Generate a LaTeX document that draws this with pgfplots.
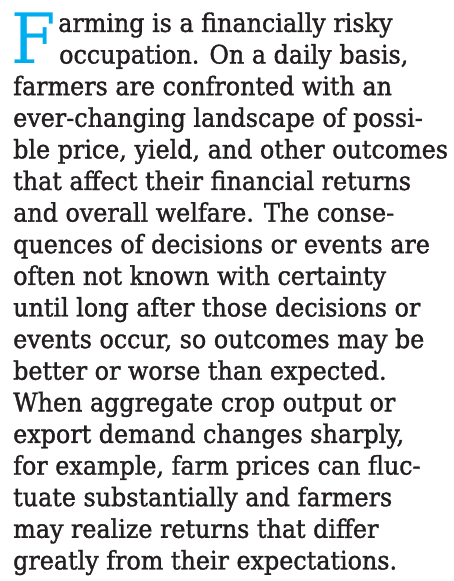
\documentclass[border=0pt]{standalone}
\usepackage{fontspec}
\setmainfont{DejaVu Serif}
\newfontfamily\bodyfont[FakeStretch=0.93,FakeBold=1.3]{DejaVu Serif}
\newfontfamily\capfont[FakeStretch=0.92]{DejaVu Serif}
\usepackage{pgfplots}
\pgfplotsset{compat=1.18}
\definecolor{txt}{HTML}{231F20}
\definecolor{capblue}{HTML}{00AEEF}
\begin{document}
\begin{tikzpicture}
\useasboundingbox (0,0) rectangle (453pt,581pt);
\begin{axis}[
  at={(0,0)}, anchor=south west,
  scale only axis, width=453pt, height=581pt,
  xmin=0, xmax=453, ymin=0, ymax=581,
  hide axis, clip=false,
]
\def\L#1#2#3{\node[anchor=base west, inner sep=0pt, text height=19pt, text depth=5.5pt, text=txt, font=\bodyfont\fontsize{25.6}{28}\selectfont] at (axis cs:#1,{581-(31.9+(#2-1)*31.62)}) {#3};}
\node[anchor=base west, inner sep=0pt, text height=50pt, text depth=0pt, text=capblue, font=\capfont\fontsize{69.5}{70}\selectfont] at (axis cs:11,{581-63.5}) {F};
\L{58}{1}{arming is a financially risky}
\L{59}{2}{occupation. On a daily basis,}
\L{13}{3}{farmers are confronted with an}
\L{13}{4}{ever-changing landscape of possi-}
\L{13}{5}{ble price, yield, and other outcomes}
\L{13}{6}{that affect their financial returns}
\L{13}{7}{and overall welfare. The conse-}
\L{13}{8}{quences of decisions or events are}
\L{13}{9}{often not known with certainty}
\L{13}{10}{until long after those decisions or}
\L{13}{11}{events occur, so outcomes may be}
\L{13}{12}{better or worse than expected.}
\L{13}{13}{When aggregate crop output or}
\L{13}{14}{export demand changes sharply,}
\L{13}{15}{for example, farm prices can fluc-}
\L{13}{16}{tuate substantially and farmers}
\L{13}{17}{may realize returns that differ}
\L{13}{18}{greatly from their expectations.}
\end{axis}
\end{tikzpicture}
\end{document}
